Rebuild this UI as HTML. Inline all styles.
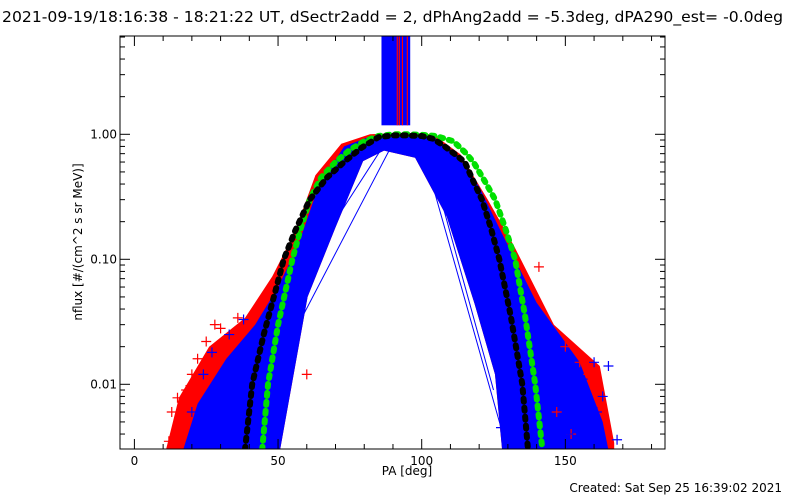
<!DOCTYPE html>
<html><head><meta charset="utf-8"><style>
html,body{margin:0;padding:0;background:#fff;}
svg{display:block;font-family:"DejaVu Sans","Liberation Sans",sans-serif;}
</style></head><body>
<svg id="chart" width="800" height="500" viewBox="0 0 800 500">
<rect x="0" y="0" width="800" height="500" fill="#fff"/>
<text x="2" y="22" font-size="15" textLength="781" lengthAdjust="spacingAndGlyphs">2021-09-19/18:16:38 - 18:21:22 UT, dSectr2add = 2, dPhAng2add = -5.3deg, dPA290_est= -0.0deg</text>
<g id="plot"></g>
<g id="axes"></g>
<text x="407" y="475" font-size="12" text-anchor="middle">PA [deg]</text>
<text transform="translate(82,242) rotate(-90)" font-size="12" text-anchor="middle">nflux [#/(cm^2 s sr MeV)]</text>
<text x="782" y="492" font-size="12" text-anchor="end">Created: Sat Sep 25 16:39:02 2021</text>
</svg>
<script>
const xTicks=[0,50,100,150];
const xTickLabels=["0","50","100","150"];
const yTicks=[1,0.1,0.01];
const yTickLabels=["1.00","0.10","0.01"];
const bandOuterPA=[11,15.5,26,38.5,48,55.5,63,72,82,90,97,104,113.5,123,132,146,162,167,167];
const bandOuterV=[0.003,0.0078,0.02,0.034,0.073,0.16,0.47,0.84,1.0,1.02,1.02,1.0,0.69,0.30,0.13,0.03,0.014,0.0034,0.003];
const blueOuterPA=[17,22,32,42,50,57,64,73,82,90,97,104,112,120,128,140,155,163,165];
const blueOuterV=[0.003,0.007,0.016,0.03,0.06,0.13,0.38,0.80,0.96,0.99,0.99,0.96,0.70,0.38,0.16,0.045,0.015,0.005,0.003];
const bandInnerPA=[128,125.5,118.4,108.7,97.7,86.9,79.6,70,60.3,50.7];
const bandInnerV=[0.003,0.012,0.044,0.22,0.65,0.74,0.61,0.18,0.05,0.003];
const greenPA=[44.5,46.5,50,55,58,61,65,70,75,80,85,90,95,100,105,111,115,118,122,125.6,129,132.5,136,139.5,142];
const greenV=[0.003,0.01,0.03,0.1,0.18,0.3,0.45,0.6,0.75,0.88,0.97,1.0,1.0,0.99,0.97,0.88,0.72,0.6,0.42,0.3,0.18,0.1,0.035,0.01,0.003];
const blackPA=[38.5,41,45,49,52,56,61,67,73,79,85,90,95,100,104,108,112,115,118,121,124,127,131,135,137];
const blackV=[0.003,0.01,0.025,0.055,0.1,0.17,0.3,0.45,0.6,0.78,0.95,0.98,0.98,0.97,0.92,0.8,0.68,0.6,0.42,0.3,0.18,0.1,0.035,0.01,0.003];
const redPtPA=[12,13,15,16,18,20,22,25,28,30,36,60,140.8,150,155,158,147,152];
const redPtV=[0.0035,0.006,0.0078,0.005,0.009,0.012,0.016,0.022,0.03,0.028,0.034,0.012,0.087,0.02,0.015,0.012,0.006,0.004];
const bluePtPA=[20,24,27,33,38,44,54,160,165,163,168,127.6,156,161,151];
const bluePtV=[0.006,0.012,0.018,0.025,0.033,0.005,0.055,0.015,0.014,0.008,0.0036,0.0045,0.011,0.006,0.004];
const strayBluePA=[[88,54],[90,44],[100,127.6],[102,125]];
const strayBlueV=[[0.9,0.055],[0.85,0.008],[0.8,0.0045],[0.75,0.009]];
const barPA=[86,96];
const barRedPA=[91.5,92.2,93.3,95];

const X0=120,X1=665,Y0=36,Y1=449;
const xs=pa=>134.4+pa*2.873;
const ys=v=>134.3-125*Math.log10(v);
const NS='http://www.w3.org/2000/svg';
const plot=document.getElementById('plot'),axes=document.getElementById('axes');
function mk(tag,attrs,parent){const e=document.createElementNS(NS,tag);for(const k in attrs)e.setAttribute(k,attrs[k]);parent.appendChild(e);return e;}
const defs=mk('defs',{},plot);
const cp=mk('clipPath',{id:'clip'},defs);
mk('rect',{x:X0,y:Y0,width:X1-X0,height:Y1-Y0},cp);
const g=mk('g',{'clip-path':'url(#clip)'},plot);
const pts=(P,V)=>P.map((p,i)=>xs(p).toFixed(1)+','+ys(V[i]).toFixed(1)).join(' ');

let e=mk('polygon',{points:pts(bandOuterPA,bandOuterV)+' '+pts(bandInnerPA,bandInnerV),fill:'#ff0000'},g);


e=mk('polygon',{points:pts(blueOuterPA,blueOuterV)+' '+pts(bandInnerPA,bandInnerV),fill:'#0000ff'},g);


strayBluePA.forEach((P,i)=>{
  const l=mk('polyline',{points:pts(P,strayBlueV[i]),fill:'none',stroke:'#0000ff','stroke-width':1},g);
  
  
});
function plus(pa,v,col,name){
  const x=xs(pa),y=ys(v);
  const p=mk('path',{d:`M${x-5},${y}H${x+5}M${x},${y-5}V${y+5}`,stroke:col,'stroke-width':1.2},g);
  
  
}
redPtPA.forEach((p,i)=>plus(p,redPtV[i],'#ff0000','red-marker'));
bluePtPA.forEach((p,i)=>plus(p,bluePtV[i],'#0000ff','blue-marker'));
e=mk('rect',{x:xs(barPA[0]),y:Y0,width:xs(barPA[1])-xs(barPA[0]),height:ys(1.18)-Y0,fill:'#0000ff'},g);


barRedPA.forEach(p=>{
  const l=mk('line',{x1:xs(p),x2:xs(p),y1:Y0,y2:ys(1.18),stroke:'#ff0000','stroke-width':1.2},g);
  
  
});
e=mk('polyline',{points:pts(greenPA,greenV),fill:'none',stroke:'#00e000','stroke-width':6,'stroke-dasharray':'3 6','stroke-linecap':'round'},g);


e=mk('polyline',{points:pts(blackPA,blackV),fill:'none',stroke:'#000','stroke-width':6,'stroke-dasharray':'3 6','stroke-linecap':'round'},g);



e=mk('rect',{x:X0,y:Y0,width:X1-X0,height:Y1-Y0,fill:'none',stroke:'#000','stroke-width':1},axes);


for(let t=-5;t<=185;t+=5){
  if(t%10!==0)continue;
  const x=xs(t);if(x<X0||x>X1)continue;
  const L=t%50===0?10:5;
  mk('line',{x1:x,x2:x,y1:Y1,y2:Y1-L,stroke:'#000'},axes);
  mk('line',{x1:x,x2:x,y1:Y0,y2:Y0+L,stroke:'#000'},axes);
}
xTicks.forEach((t,i)=>{
  const tx=mk('text',{x:xs(t),y:Y1+16,'font-size':12,'text-anchor':'middle'},axes);
  tx.textContent=xTickLabels[i];
  
  
});
for(let d=-3;d<=0;d++){for(let m=1;m<=9;m++){
  const v=m*Math.pow(10,d);const y=ys(v);if(y<Y0||y>Y1)continue;
  const L=m===1?10:5;
  mk('line',{x1:X0,x2:X0+L,y1:y,y2:y,stroke:'#000'},axes);
  mk('line',{x1:X1,x2:X1-L,y1:y,y2:y,stroke:'#000'},axes);
}}
yTicks.forEach((t,i)=>{
  const tx=mk('text',{x:X0-3,y:ys(t)+4,'font-size':12,'text-anchor':'end'},axes);
  tx.textContent=yTickLabels[i];
  
  
});
</script>
</body></html>
